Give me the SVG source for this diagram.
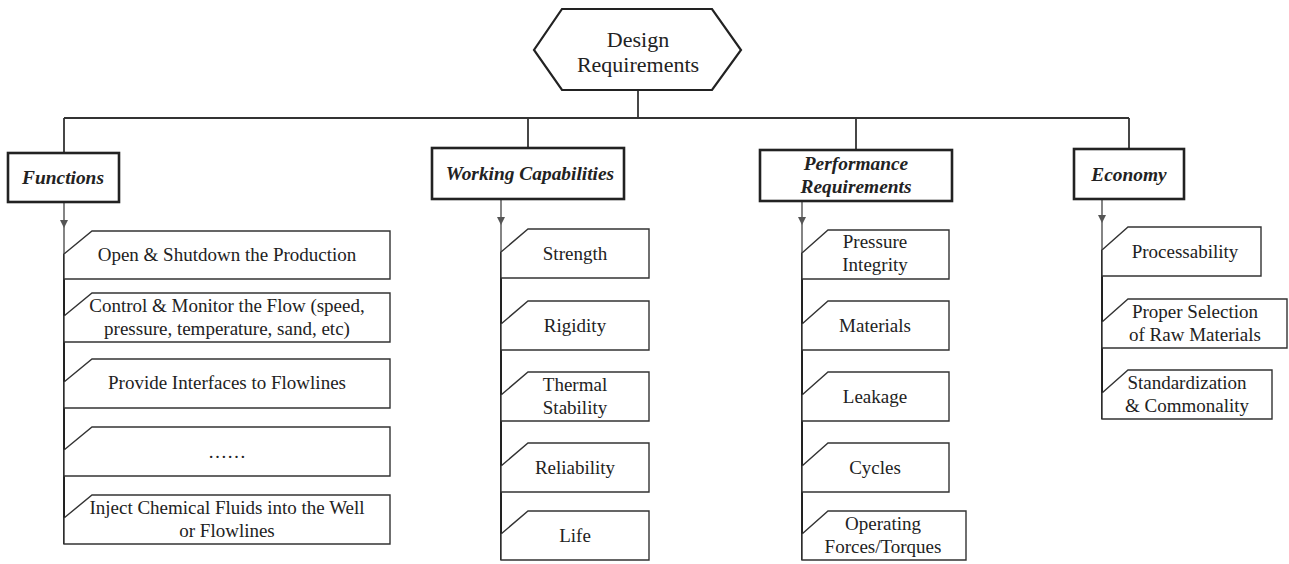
<svg xmlns="http://www.w3.org/2000/svg" width="1289" height="564" viewBox="0 0 1289 564">
  <style>
    .bg { fill: #ffffff; }
    .root { fill: #ffffff; stroke: #222; stroke-width: 2.2; }
    .head { fill: #ffffff; stroke: #222; stroke-width: 2.6; }
    .item { fill: #ffffff; stroke: #333; stroke-width: 1.4; }
    .link { fill: none; stroke: #333; stroke-width: 1.8; }
    .feed { fill: none; stroke: #666; stroke-width: 1.6; }
    .spine { fill: none; stroke: #222; stroke-width: 2; }
    text { font-family: "Liberation Serif", "Times New Roman", serif; fill: #222; text-anchor: middle; }
    .t-root { font-size: 22px; }
    .t-head { font-size: 19.4px; font-weight: bold; font-style: italic; }
    .t-item { font-size: 19px; }
  </style>
  <defs>
    <marker id="tri" markerUnits="userSpaceOnUse" markerWidth="10" markerHeight="9" refX="5" refY="8" orient="0" viewBox="0 0 10 9">
      <path d="M1 0 L9 0 L5 8 Z" fill="#555"/>
    </marker>
  </defs>

  <rect class="bg" x="0" y="0" width="1289" height="564"/>

  <!-- tree connectors -->
  <g id="connectors">
    <path class="link" d="M638 90 V118 M64 118 H1129 M64 118 V153 M528 118 V148 M856 118 V150 M1129 118 V149"/>
    <!-- feeds from each heading into its list -->
    <path class="feed" d="M64 202 V228" marker-end="url(#tri)"/>
    <path class="feed" d="M64 228 V254"/>
    <path class="spine" d="M64 254 V544"/>
    <path class="feed" d="M501 199 V225" marker-end="url(#tri)"/>
    <path class="feed" d="M501 225 V252"/>
    <path class="spine" d="M501 252 V560"/>
    <path class="feed" d="M802 201 V225" marker-end="url(#tri)"/>
    <path class="feed" d="M802 225 V253"/>
    <path class="spine" d="M802 253 V560"/>
    <path class="feed" d="M1102 199 V223" marker-end="url(#tri)"/>
    <path class="feed" d="M1102 223 V250"/>
    <path class="spine" d="M1102 250 V419"/>
  </g>

  <!-- root -->
  <g id="design-requirements">
    <polygon class="root" points="562,9 712,9 741,50 712,90 562,90 534,50"/>
    <text class="t-root" x="638" y="47">Design</text>
    <text class="t-root" x="638" y="72">Requirements</text>
  </g>

  <!-- headings -->
  <g id="functions">
    <rect class="head" x="8" y="153" width="111" height="49"/>
    <text class="t-head" x="63" y="184">Functions</text>
  </g>
  <g id="working-capabilities">
    <rect class="head" x="432" y="148" width="192" height="51"/>
    <text class="t-head" x="530" y="180">Working Capabilities</text>
  </g>
  <g id="performance-requirements">
    <rect class="head" x="760" y="150" width="192" height="51"/>
    <text class="t-head" x="856" y="170">Performance</text>
    <text class="t-head" x="856" y="193">Requirements</text>
  </g>
  <g id="economy">
    <rect class="head" x="1074" y="149" width="110" height="50"/>
    <text class="t-head" x="1129" y="181">Economy</text>
  </g>

  <!-- Functions list -->
  <g id="fn-open">
    <path class="item" d="M64 254 L92 231 H390 V279 H64 Z"/>
    <text class="t-item" x="227" y="261">Open &amp; Shutdown the Production</text>
  </g>
  <g id="fn-control">
    <path class="item" d="M64 316 L92 293 H390 V342 H64 Z"/>
    <text class="t-item" x="227" y="312">Control &amp; Monitor the Flow (speed,</text>
    <text class="t-item" x="227" y="335">pressure, temperature, sand, etc)</text>
  </g>
  <g id="fn-interfaces">
    <path class="item" d="M64 382 L92 359 H390 V408 H64 Z"/>
    <text class="t-item" x="227" y="389">Provide Interfaces to Flowlines</text>
  </g>
  <g id="fn-more">
    <path class="item" d="M64 450 L92 427 H390 V476 H64 Z"/>
    <text class="t-item" x="227" y="458">……</text>
  </g>
  <g id="fn-inject">
    <path class="item" d="M64 518 L92 495 H390 V544 H64 Z"/>
    <text class="t-item" x="227" y="514">Inject Chemical Fluids into the Well</text>
    <text class="t-item" x="227" y="537">or Flowlines</text>
  </g>

  <!-- Working Capabilities list -->
  <g id="wc-strength">
    <path class="item" d="M501 252 L528 229 H649 V278 H501 Z"/>
    <text class="t-item" x="575" y="260">Strength</text>
  </g>
  <g id="wc-rigidity">
    <path class="item" d="M501 324 L528 301 H649 V350 H501 Z"/>
    <text class="t-item" x="575" y="332">Rigidity</text>
  </g>
  <g id="wc-thermal">
    <path class="item" d="M501 395 L528 372 H649 V421 H501 Z"/>
    <text class="t-item" x="575" y="391">Thermal</text>
    <text class="t-item" x="575" y="414">Stability</text>
  </g>
  <g id="wc-reliability">
    <path class="item" d="M501 466 L528 443 H649 V492 H501 Z"/>
    <text class="t-item" x="575" y="474">Reliability</text>
  </g>
  <g id="wc-life">
    <path class="item" d="M501 534 L528 511 H649 V560 H501 Z"/>
    <text class="t-item" x="575" y="542">Life</text>
  </g>

  <!-- Performance Requirements list -->
  <g id="pr-pressure">
    <path class="item" d="M802 253 L828 230 H949 V279 H802 Z"/>
    <text class="t-item" x="875" y="248">Pressure</text>
    <text class="t-item" x="875" y="271">Integrity</text>
  </g>
  <g id="pr-materials">
    <path class="item" d="M802 324 L828 301 H949 V350 H802 Z"/>
    <text class="t-item" x="875" y="332">Materials</text>
  </g>
  <g id="pr-leakage">
    <path class="item" d="M802 395 L828 372 H949 V421 H802 Z"/>
    <text class="t-item" x="875" y="403">Leakage</text>
  </g>
  <g id="pr-cycles">
    <path class="item" d="M802 466 L828 443 H949 V492 H802 Z"/>
    <text class="t-item" x="875" y="474">Cycles</text>
  </g>
  <g id="pr-forces">
    <path class="item" d="M802 534 L828 511 H966 V560 H802 Z"/>
    <text class="t-item" x="883" y="530">Operating</text>
    <text class="t-item" x="883" y="553">Forces/Torques</text>
  </g>

  <!-- Economy list -->
  <g id="ec-process">
    <path class="item" d="M1102 250 L1128 227 H1261 V276 H1102 Z"/>
    <text class="t-item" x="1185" y="258">Processability</text>
  </g>
  <g id="ec-selection">
    <path class="item" d="M1102 322 L1128 299 H1287 V348 H1102 Z"/>
    <text class="t-item" x="1195" y="318">Proper Selection</text>
    <text class="t-item" x="1195" y="341">of Raw Materials</text>
  </g>
  <g id="ec-standard">
    <path class="item" d="M1102 393 L1128 370 H1272 V419 H1102 Z"/>
    <text class="t-item" x="1187" y="389">Standardization</text>
    <text class="t-item" x="1187" y="412">&amp; Commonality</text>
  </g>
</svg>
